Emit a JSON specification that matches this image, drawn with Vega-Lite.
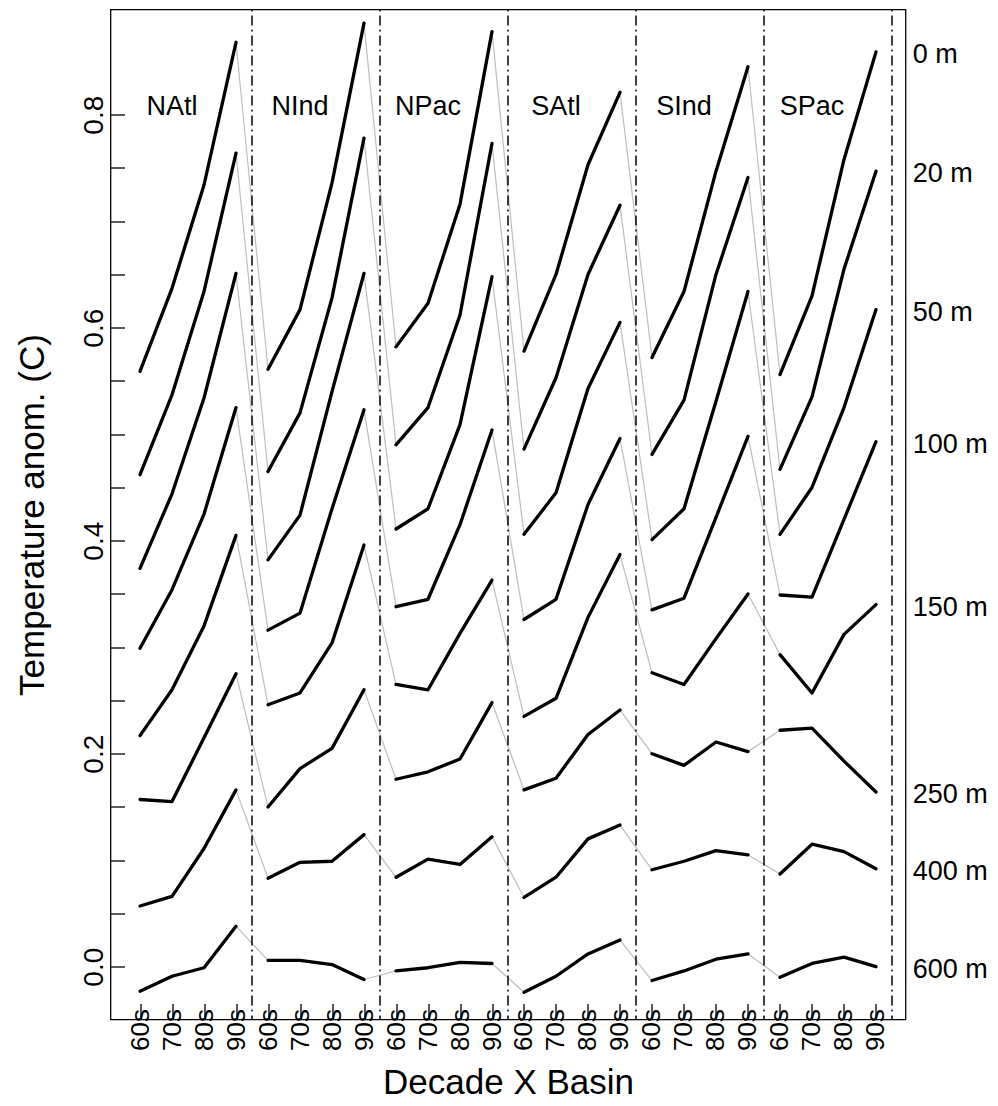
{
"$schema": "https://vega.github.io/schema/vega-lite/v6.json",
"width": 795,
"height": 1010,
"autosize": "none",
"padding": {"left": 110.5, "top": 9.5, "right": 92.5, "bottom": 86.5},
"background": "white",
"config": {"font": "Liberation Sans", "view": {"stroke": "black", "strokeWidth": 1.3}},
"datasets": {
"temps": [
{"depth":"0 m","basin":"NAtl","decade":"60s","pos":1,"value":0.559},
{"depth":"0 m","basin":"NAtl","decade":"70s","pos":2,"value":0.637},
{"depth":"0 m","basin":"NAtl","decade":"80s","pos":3,"value":0.734},
{"depth":"0 m","basin":"NAtl","decade":"90s","pos":4,"value":0.868},
{"depth":"0 m","basin":"NInd","decade":"60s","pos":5,"value":0.561},
{"depth":"0 m","basin":"NInd","decade":"70s","pos":6,"value":0.617},
{"depth":"0 m","basin":"NInd","decade":"80s","pos":7,"value":0.736},
{"depth":"0 m","basin":"NInd","decade":"90s","pos":8,"value":0.886},
{"depth":"0 m","basin":"NPac","decade":"60s","pos":9,"value":0.582},
{"depth":"0 m","basin":"NPac","decade":"70s","pos":10,"value":0.623},
{"depth":"0 m","basin":"NPac","decade":"80s","pos":11,"value":0.716},
{"depth":"0 m","basin":"NPac","decade":"90s","pos":12,"value":0.878},
{"depth":"0 m","basin":"SAtl","decade":"60s","pos":13,"value":0.578},
{"depth":"0 m","basin":"SAtl","decade":"70s","pos":14,"value":0.650},
{"depth":"0 m","basin":"SAtl","decade":"80s","pos":15,"value":0.753},
{"depth":"0 m","basin":"SAtl","decade":"90s","pos":16,"value":0.821},
{"depth":"0 m","basin":"SInd","decade":"60s","pos":17,"value":0.572},
{"depth":"0 m","basin":"SInd","decade":"70s","pos":18,"value":0.634},
{"depth":"0 m","basin":"SInd","decade":"80s","pos":19,"value":0.747},
{"depth":"0 m","basin":"SInd","decade":"90s","pos":20,"value":0.845},
{"depth":"0 m","basin":"SPac","decade":"60s","pos":21,"value":0.556},
{"depth":"0 m","basin":"SPac","decade":"70s","pos":22,"value":0.630},
{"depth":"0 m","basin":"SPac","decade":"80s","pos":23,"value":0.758},
{"depth":"0 m","basin":"SPac","decade":"90s","pos":24,"value":0.859},
{"depth":"20 m","basin":"NAtl","decade":"60s","pos":1,"value":0.462},
{"depth":"20 m","basin":"NAtl","decade":"70s","pos":2,"value":0.537},
{"depth":"20 m","basin":"NAtl","decade":"80s","pos":3,"value":0.634},
{"depth":"20 m","basin":"NAtl","decade":"90s","pos":4,"value":0.764},
{"depth":"20 m","basin":"NInd","decade":"60s","pos":5,"value":0.465},
{"depth":"20 m","basin":"NInd","decade":"70s","pos":6,"value":0.520},
{"depth":"20 m","basin":"NInd","decade":"80s","pos":7,"value":0.628},
{"depth":"20 m","basin":"NInd","decade":"90s","pos":8,"value":0.778},
{"depth":"20 m","basin":"NPac","decade":"60s","pos":9,"value":0.490},
{"depth":"20 m","basin":"NPac","decade":"70s","pos":10,"value":0.525},
{"depth":"20 m","basin":"NPac","decade":"80s","pos":11,"value":0.612},
{"depth":"20 m","basin":"NPac","decade":"90s","pos":12,"value":0.773},
{"depth":"20 m","basin":"SAtl","decade":"60s","pos":13,"value":0.486},
{"depth":"20 m","basin":"SAtl","decade":"70s","pos":14,"value":0.553},
{"depth":"20 m","basin":"SAtl","decade":"80s","pos":15,"value":0.650},
{"depth":"20 m","basin":"SAtl","decade":"90s","pos":16,"value":0.715},
{"depth":"20 m","basin":"SInd","decade":"60s","pos":17,"value":0.481},
{"depth":"20 m","basin":"SInd","decade":"70s","pos":18,"value":0.532},
{"depth":"20 m","basin":"SInd","decade":"80s","pos":19,"value":0.650},
{"depth":"20 m","basin":"SInd","decade":"90s","pos":20,"value":0.741},
{"depth":"20 m","basin":"SPac","decade":"60s","pos":21,"value":0.467},
{"depth":"20 m","basin":"SPac","decade":"70s","pos":22,"value":0.535},
{"depth":"20 m","basin":"SPac","decade":"80s","pos":23,"value":0.655},
{"depth":"20 m","basin":"SPac","decade":"90s","pos":24,"value":0.747},
{"depth":"50 m","basin":"NAtl","decade":"60s","pos":1,"value":0.374},
{"depth":"50 m","basin":"NAtl","decade":"70s","pos":2,"value":0.444},
{"depth":"50 m","basin":"NAtl","decade":"80s","pos":3,"value":0.534},
{"depth":"50 m","basin":"NAtl","decade":"90s","pos":4,"value":0.651},
{"depth":"50 m","basin":"NInd","decade":"60s","pos":5,"value":0.382},
{"depth":"50 m","basin":"NInd","decade":"70s","pos":6,"value":0.424},
{"depth":"50 m","basin":"NInd","decade":"80s","pos":7,"value":0.540},
{"depth":"50 m","basin":"NInd","decade":"90s","pos":8,"value":0.651},
{"depth":"50 m","basin":"NPac","decade":"60s","pos":9,"value":0.411},
{"depth":"50 m","basin":"NPac","decade":"70s","pos":10,"value":0.430},
{"depth":"50 m","basin":"NPac","decade":"80s","pos":11,"value":0.509},
{"depth":"50 m","basin":"NPac","decade":"90s","pos":12,"value":0.648},
{"depth":"50 m","basin":"SAtl","decade":"60s","pos":13,"value":0.406},
{"depth":"50 m","basin":"SAtl","decade":"70s","pos":14,"value":0.445},
{"depth":"50 m","basin":"SAtl","decade":"80s","pos":15,"value":0.543},
{"depth":"50 m","basin":"SAtl","decade":"90s","pos":16,"value":0.605},
{"depth":"50 m","basin":"SInd","decade":"60s","pos":17,"value":0.401},
{"depth":"50 m","basin":"SInd","decade":"70s","pos":18,"value":0.430},
{"depth":"50 m","basin":"SInd","decade":"80s","pos":19,"value":0.531},
{"depth":"50 m","basin":"SInd","decade":"90s","pos":20,"value":0.634},
{"depth":"50 m","basin":"SPac","decade":"60s","pos":21,"value":0.406},
{"depth":"50 m","basin":"SPac","decade":"70s","pos":22,"value":0.450},
{"depth":"50 m","basin":"SPac","decade":"80s","pos":23,"value":0.525},
{"depth":"50 m","basin":"SPac","decade":"90s","pos":24,"value":0.617},
{"depth":"100 m","basin":"NAtl","decade":"60s","pos":1,"value":0.299},
{"depth":"100 m","basin":"NAtl","decade":"70s","pos":2,"value":0.354},
{"depth":"100 m","basin":"NAtl","decade":"80s","pos":3,"value":0.425},
{"depth":"100 m","basin":"NAtl","decade":"90s","pos":4,"value":0.525},
{"depth":"100 m","basin":"NInd","decade":"60s","pos":5,"value":0.316},
{"depth":"100 m","basin":"NInd","decade":"70s","pos":6,"value":0.332},
{"depth":"100 m","basin":"NInd","decade":"80s","pos":7,"value":0.430},
{"depth":"100 m","basin":"NInd","decade":"90s","pos":8,"value":0.523},
{"depth":"100 m","basin":"NPac","decade":"60s","pos":9,"value":0.338},
{"depth":"100 m","basin":"NPac","decade":"70s","pos":10,"value":0.345},
{"depth":"100 m","basin":"NPac","decade":"80s","pos":11,"value":0.415},
{"depth":"100 m","basin":"NPac","decade":"90s","pos":12,"value":0.504},
{"depth":"100 m","basin":"SAtl","decade":"60s","pos":13,"value":0.326},
{"depth":"100 m","basin":"SAtl","decade":"70s","pos":14,"value":0.345},
{"depth":"100 m","basin":"SAtl","decade":"80s","pos":15,"value":0.434},
{"depth":"100 m","basin":"SAtl","decade":"90s","pos":16,"value":0.496},
{"depth":"100 m","basin":"SInd","decade":"60s","pos":17,"value":0.335},
{"depth":"100 m","basin":"SInd","decade":"70s","pos":18,"value":0.346},
{"depth":"100 m","basin":"SInd","decade":"80s","pos":19,"value":0.422},
{"depth":"100 m","basin":"SInd","decade":"90s","pos":20,"value":0.498},
{"depth":"100 m","basin":"SPac","decade":"60s","pos":21,"value":0.349},
{"depth":"100 m","basin":"SPac","decade":"70s","pos":22,"value":0.347},
{"depth":"100 m","basin":"SPac","decade":"80s","pos":23,"value":0.420},
{"depth":"100 m","basin":"SPac","decade":"90s","pos":24,"value":0.493},
{"depth":"150 m","basin":"NAtl","decade":"60s","pos":1,"value":0.217},
{"depth":"150 m","basin":"NAtl","decade":"70s","pos":2,"value":0.260},
{"depth":"150 m","basin":"NAtl","decade":"80s","pos":3,"value":0.320},
{"depth":"150 m","basin":"NAtl","decade":"90s","pos":4,"value":0.405},
{"depth":"150 m","basin":"NInd","decade":"60s","pos":5,"value":0.246},
{"depth":"150 m","basin":"NInd","decade":"70s","pos":6,"value":0.257},
{"depth":"150 m","basin":"NInd","decade":"80s","pos":7,"value":0.304},
{"depth":"150 m","basin":"NInd","decade":"90s","pos":8,"value":0.396},
{"depth":"150 m","basin":"NPac","decade":"60s","pos":9,"value":0.265},
{"depth":"150 m","basin":"NPac","decade":"70s","pos":10,"value":0.260},
{"depth":"150 m","basin":"NPac","decade":"80s","pos":11,"value":0.313},
{"depth":"150 m","basin":"NPac","decade":"90s","pos":12,"value":0.363},
{"depth":"150 m","basin":"SAtl","decade":"60s","pos":13,"value":0.235},
{"depth":"150 m","basin":"SAtl","decade":"70s","pos":14,"value":0.252},
{"depth":"150 m","basin":"SAtl","decade":"80s","pos":15,"value":0.328},
{"depth":"150 m","basin":"SAtl","decade":"90s","pos":16,"value":0.387},
{"depth":"150 m","basin":"SInd","decade":"60s","pos":17,"value":0.276},
{"depth":"150 m","basin":"SInd","decade":"70s","pos":18,"value":0.265},
{"depth":"150 m","basin":"SInd","decade":"80s","pos":19,"value":0.308},
{"depth":"150 m","basin":"SInd","decade":"90s","pos":20,"value":0.350},
{"depth":"150 m","basin":"SPac","decade":"60s","pos":21,"value":0.293},
{"depth":"150 m","basin":"SPac","decade":"70s","pos":22,"value":0.257},
{"depth":"150 m","basin":"SPac","decade":"80s","pos":23,"value":0.312},
{"depth":"150 m","basin":"SPac","decade":"90s","pos":24,"value":0.340},
{"depth":"250 m","basin":"NAtl","decade":"60s","pos":1,"value":0.157},
{"depth":"250 m","basin":"NAtl","decade":"70s","pos":2,"value":0.155},
{"depth":"250 m","basin":"NAtl","decade":"80s","pos":3,"value":0.215},
{"depth":"250 m","basin":"NAtl","decade":"90s","pos":4,"value":0.275},
{"depth":"250 m","basin":"NInd","decade":"60s","pos":5,"value":0.150},
{"depth":"250 m","basin":"NInd","decade":"70s","pos":6,"value":0.186},
{"depth":"250 m","basin":"NInd","decade":"80s","pos":7,"value":0.205},
{"depth":"250 m","basin":"NInd","decade":"90s","pos":8,"value":0.260},
{"depth":"250 m","basin":"NPac","decade":"60s","pos":9,"value":0.176},
{"depth":"250 m","basin":"NPac","decade":"70s","pos":10,"value":0.183},
{"depth":"250 m","basin":"NPac","decade":"80s","pos":11,"value":0.195},
{"depth":"250 m","basin":"NPac","decade":"90s","pos":12,"value":0.248},
{"depth":"250 m","basin":"SAtl","decade":"60s","pos":13,"value":0.166},
{"depth":"250 m","basin":"SAtl","decade":"70s","pos":14,"value":0.177},
{"depth":"250 m","basin":"SAtl","decade":"80s","pos":15,"value":0.218},
{"depth":"250 m","basin":"SAtl","decade":"90s","pos":16,"value":0.241},
{"depth":"250 m","basin":"SInd","decade":"60s","pos":17,"value":0.200},
{"depth":"250 m","basin":"SInd","decade":"70s","pos":18,"value":0.189},
{"depth":"250 m","basin":"SInd","decade":"80s","pos":19,"value":0.211},
{"depth":"250 m","basin":"SInd","decade":"90s","pos":20,"value":0.202},
{"depth":"250 m","basin":"SPac","decade":"60s","pos":21,"value":0.222},
{"depth":"250 m","basin":"SPac","decade":"70s","pos":22,"value":0.224},
{"depth":"250 m","basin":"SPac","decade":"80s","pos":23,"value":0.193},
{"depth":"250 m","basin":"SPac","decade":"90s","pos":24,"value":0.164},
{"depth":"400 m","basin":"NAtl","decade":"60s","pos":1,"value":0.057},
{"depth":"400 m","basin":"NAtl","decade":"70s","pos":2,"value":0.066},
{"depth":"400 m","basin":"NAtl","decade":"80s","pos":3,"value":0.111},
{"depth":"400 m","basin":"NAtl","decade":"90s","pos":4,"value":0.166},
{"depth":"400 m","basin":"NInd","decade":"60s","pos":5,"value":0.083},
{"depth":"400 m","basin":"NInd","decade":"70s","pos":6,"value":0.098},
{"depth":"400 m","basin":"NInd","decade":"80s","pos":7,"value":0.099},
{"depth":"400 m","basin":"NInd","decade":"90s","pos":8,"value":0.124},
{"depth":"400 m","basin":"NPac","decade":"60s","pos":9,"value":0.084},
{"depth":"400 m","basin":"NPac","decade":"70s","pos":10,"value":0.101},
{"depth":"400 m","basin":"NPac","decade":"80s","pos":11,"value":0.096},
{"depth":"400 m","basin":"NPac","decade":"90s","pos":12,"value":0.122},
{"depth":"400 m","basin":"SAtl","decade":"60s","pos":13,"value":0.065},
{"depth":"400 m","basin":"SAtl","decade":"70s","pos":14,"value":0.084},
{"depth":"400 m","basin":"SAtl","decade":"80s","pos":15,"value":0.120},
{"depth":"400 m","basin":"SAtl","decade":"90s","pos":16,"value":0.133},
{"depth":"400 m","basin":"SInd","decade":"60s","pos":17,"value":0.091},
{"depth":"400 m","basin":"SInd","decade":"70s","pos":18,"value":0.099},
{"depth":"400 m","basin":"SInd","decade":"80s","pos":19,"value":0.109},
{"depth":"400 m","basin":"SInd","decade":"90s","pos":20,"value":0.105},
{"depth":"400 m","basin":"SPac","decade":"60s","pos":21,"value":0.087},
{"depth":"400 m","basin":"SPac","decade":"70s","pos":22,"value":0.115},
{"depth":"400 m","basin":"SPac","decade":"80s","pos":23,"value":0.108},
{"depth":"400 m","basin":"SPac","decade":"90s","pos":24,"value":0.092},
{"depth":"600 m","basin":"NAtl","decade":"60s","pos":1,"value":-0.023},
{"depth":"600 m","basin":"NAtl","decade":"70s","pos":2,"value":-0.009},
{"depth":"600 m","basin":"NAtl","decade":"80s","pos":3,"value":-0.001},
{"depth":"600 m","basin":"NAtl","decade":"90s","pos":4,"value":0.038},
{"depth":"600 m","basin":"NInd","decade":"60s","pos":5,"value":0.006},
{"depth":"600 m","basin":"NInd","decade":"70s","pos":6,"value":0.006},
{"depth":"600 m","basin":"NInd","decade":"80s","pos":7,"value":0.002},
{"depth":"600 m","basin":"NInd","decade":"90s","pos":8,"value":-0.012},
{"depth":"600 m","basin":"NPac","decade":"60s","pos":9,"value":-0.004},
{"depth":"600 m","basin":"NPac","decade":"70s","pos":10,"value":-0.001},
{"depth":"600 m","basin":"NPac","decade":"80s","pos":11,"value":0.004},
{"depth":"600 m","basin":"NPac","decade":"90s","pos":12,"value":0.003},
{"depth":"600 m","basin":"SAtl","decade":"60s","pos":13,"value":-0.024},
{"depth":"600 m","basin":"SAtl","decade":"70s","pos":14,"value":-0.009},
{"depth":"600 m","basin":"SAtl","decade":"80s","pos":15,"value":0.012},
{"depth":"600 m","basin":"SAtl","decade":"90s","pos":16,"value":0.025},
{"depth":"600 m","basin":"SInd","decade":"60s","pos":17,"value":-0.013},
{"depth":"600 m","basin":"SInd","decade":"70s","pos":18,"value":-0.004},
{"depth":"600 m","basin":"SInd","decade":"80s","pos":19,"value":0.007},
{"depth":"600 m","basin":"SInd","decade":"90s","pos":20,"value":0.012},
{"depth":"600 m","basin":"SPac","decade":"60s","pos":21,"value":-0.010},
{"depth":"600 m","basin":"SPac","decade":"70s","pos":22,"value":0.003},
{"depth":"600 m","basin":"SPac","decade":"80s","pos":23,"value":0.009},
{"depth":"600 m","basin":"SPac","decade":"90s","pos":24,"value":0.000}
],
"bounds": [
{"basin":"NAtl","boundary":4.5},
{"basin":"NInd","boundary":8.5},
{"basin":"NPac","boundary":12.5},
{"basin":"SAtl","boundary":16.5},
{"basin":"SInd","boundary":20.5},
{"basin":"SPac","boundary":24.5}
]
},
"data": {"name": "temps"},
"encoding": {
"x": {"field": "pos", "type": "quantitative",
 "scale": {"domain": [0.078, 24.922], "nice": false, "zero": false},
 "axis": {"values": [1,2,3,4,5,6,7,8,9,10,11,12,13,14,15,16,17,18,19,20,21,22,23,24],
  "labelExpr": "['60s','70s','80s','90s'][(datum.value-1)%4]",
  "labelAngle": -90, "labelAlign": "right", "labelBaseline": "middle",
  "labelFontSize": 26, "labelColor": "black", "labelPadding": 5, "labelOverlap": false, "labelBound": false, "labelFlush": false,
  "tickSize": -16, "tickColor": "black", "tickWidth": 1.3,
  "domain": false, "grid": false,
  "title": "Decade X Basin", "titleFontSize": 35, "titleFontWeight": "normal", "titleColor": "black", "titlePadding": 15}},
"y": {"field": "value", "type": "quantitative",
 "scale": {"domain": [-0.0496, 0.8988], "nice": false, "zero": false},
 "axis": {"values": [0,0.05,0.1,0.15,0.2,0.25,0.3,0.35,0.4,0.45,0.5,0.55,0.6,0.65,0.7,0.75,0.8],
  "labelExpr": "(round(datum.value*100) % 20 == 0) ? format(datum.value, '.1f') : ''",
  "labelAngle": -90, "labelAlign": "center", "labelBaseline": "bottom",
  "labelFontSize": 28, "labelColor": "black", "labelPadding": 16, "labelOverlap": false, "labelBound": false, "labelFlush": false,
  "tickSize": -14, "tickColor": "black", "tickWidth": 1.3,
  "domain": false, "grid": false,
  "title": "Temperature anom. (C)", "titleFontSize": 35, "titleFontWeight": "normal", "titleColor": "black", "titlePadding": 30}}
},
"layer": [
{"mark": {"type": "line", "color": "#BEBEBE", "strokeWidth": 1.2},
 "encoding": {"detail": {"field": "depth"}}},
{"mark": {"type": "line", "color": "black", "strokeWidth": 3.3, "strokeCap": "round", "strokeJoin": "round"},
 "encoding": {"detail": [{"field": "depth"}, {"field": "basin"}]}},
{"data": {"name": "bounds"},
 "mark": {"type": "rule", "color": "black", "strokeWidth": 1.5, "strokeDash": [2, 4, 10, 4]},
 "encoding": {"x": {"field": "boundary", "type": "quantitative"}, "y": null}},
{"transform": [{"filter": "datum.decade == '70s' && datum.depth == '0 m'"}],
 "mark": {"type": "text", "fontSize": 27, "align": "center", "baseline": "alphabetic", "color": "black"},
 "encoding": {"y": {"datum": 0.8, "type": "quantitative"}, "text": {"field": "basin"}}},
{"transform": [{"filter": "datum.basin == 'SPac' && datum.decade == '90s'"}],
 "mark": {"type": "text", "fontSize": 27, "align": "left", "baseline": "middle", "dy": 3, "color": "black", "clip": false},
 "encoding": {"x": {"datum": 25.15, "type": "quantitative"}, "text": {"field": "depth"}}}
]
}
